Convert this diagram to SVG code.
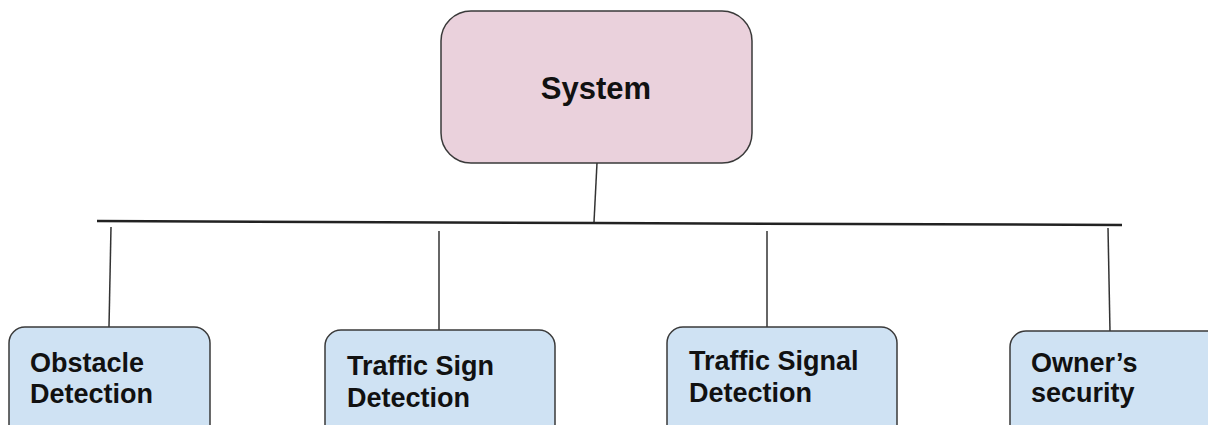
<svg xmlns="http://www.w3.org/2000/svg" width="1208" height="425" viewBox="0 0 1208 425">
<style>
.box{stroke:#3a3a3a;stroke-width:1.5}
.root{fill:#ead1dc}
.leaf{fill:#cfe2f3}
.t{font-family:"Liberation Sans",Arial,sans-serif;font-weight:bold;fill:#111}
.c{stroke:#333;stroke-width:1.5;fill:none}
</style>
<rect width="1208" height="425" fill="#ffffff"/>
<g id="connectors">
<path class="c" d="M597 163 L594 222"/>
<path d="M97 221 L595 223 L1122 225" stroke="#222" stroke-width="2.5" fill="none"/>
<path class="c" d="M111 227 L109 327"/>
<path class="c" d="M439 231 L439 330"/>
<path class="c" d="M767 231 L767 332"/>
<path class="c" d="M1108 228 L1110 331"/>
</g>
<g id="system">
<rect class="box root" x="441" y="11" width="311" height="152" rx="30"/>
<text class="t" x="596" y="99" font-size="31" text-anchor="middle">System</text>
</g>
<g id="obstacle">
<rect class="box leaf" x="9" y="327" width="201" height="120" rx="16"/>
<text class="t" x="30" y="372" font-size="27">Obstacle</text>
<text class="t" x="30" y="403" font-size="27">Detection</text>
</g>
<g id="sign">
<rect class="box leaf" x="325" y="330" width="230" height="120" rx="16"/>
<text class="t" x="347" y="375" font-size="27">Traffic Sign</text>
<text class="t" x="347" y="407" font-size="27">Detection</text>
</g>
<g id="signal">
<rect class="box leaf" x="667" y="327" width="230" height="120" rx="16"/>
<text class="t" x="689" y="370" font-size="27">Traffic Signal</text>
<text class="t" x="689" y="402" font-size="27">Detection</text>
</g>
<g id="owner">
<rect class="box leaf" x="1010" y="331" width="212" height="120" rx="16"/>
<text class="t" x="1031" y="372" font-size="27">Owner’s</text>
<text class="t" x="1031" y="402" font-size="27">security</text>
</g>
</svg>
